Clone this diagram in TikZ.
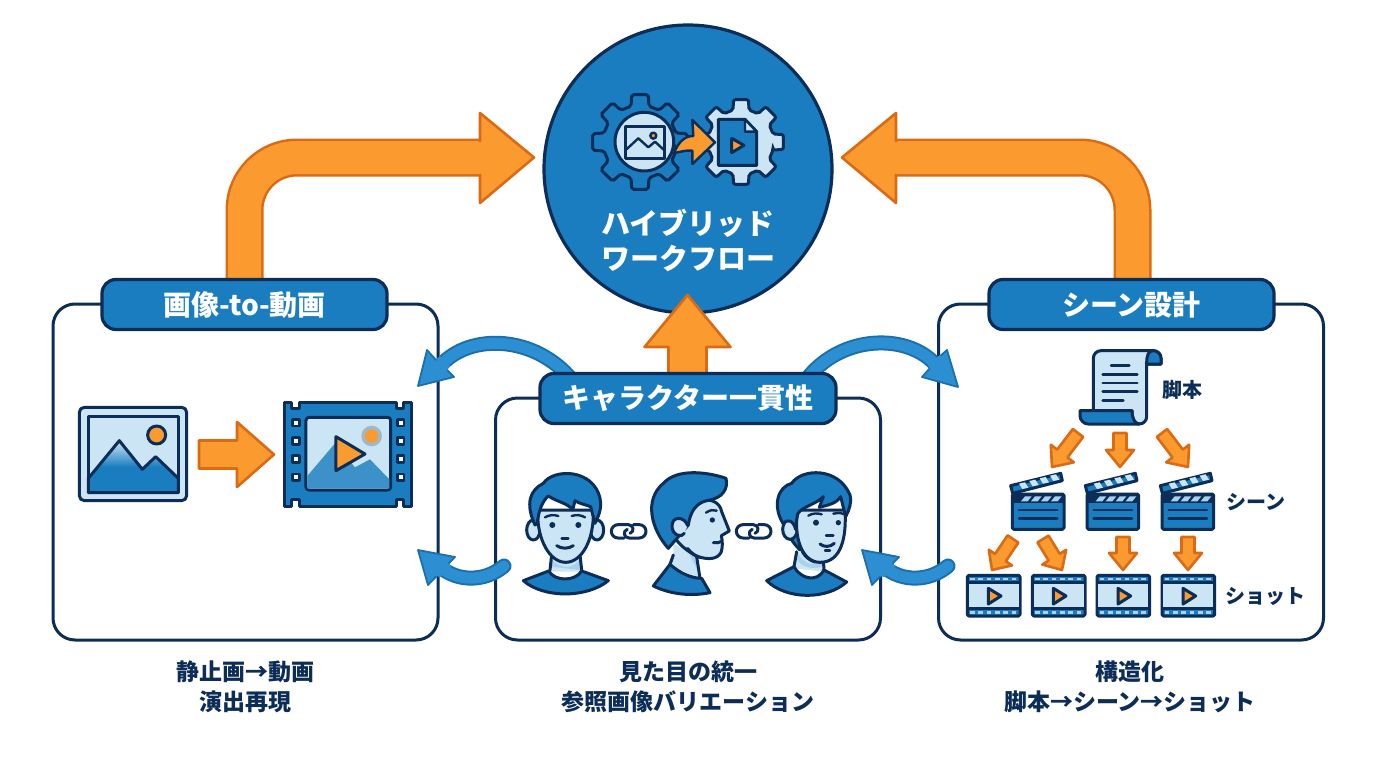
\documentclass[tikz,border=0pt]{standalone}
\usepackage{fontspec}
\setmainfont{Noto Sans CJK JP}
\usetikzlibrary{calc}
\definecolor{navy}{HTML}{0C2D57}
\definecolor{hubblue}{HTML}{1A7DC0}
\definecolor{bandblue}{HTML}{2C8FD1}
\definecolor{bandedge}{HTML}{1B6FB0}
\definecolor{pale}{HTML}{CBE5F4}
\definecolor{palemid}{HTML}{A6D2EC}
\definecolor{orangefill}{HTML}{FB9A2E}
\definecolor{orangeedge}{HTML}{DB6A14}
\tikzset{
  zoomframe/.style 2 args={x=0.33333pt,y=-0.33333pt,shift={(#1pt,-#2pt)}},
  panel/.style={draw=navy,line width=3pt,fill=white,rounded corners=22pt,minimum width=385pt,inner sep=0pt},
  tabhead/.style={draw=navy,line width=3.2pt,fill=hubblue,rounded corners=14pt,text=white,inner sep=0pt,
    minimum height=50pt,font=\fontsize{28}{34}\selectfont\bfseries},
  hubdisc/.style={circle,draw=navy,line width=3.2pt,fill=hubblue,minimum size=288pt,inner sep=0pt},
  hubtitle/.style={text=white,align=center,inner sep=0pt,font=\fontsize{29}{35}\selectfont\bfseries},
  caption/.style={text=navy,align=center,inner sep=0pt,font=\fontsize{23}{30}\selectfont\bfseries},
  sidenote/.style={text=navy,inner sep=0pt,font=\fontsize{20}{24}\selectfont\bfseries},
  orangeblock/.style={draw=orangeedge,fill=orangefill,line width=2.6pt,line join=round},
  icon/.style={draw=navy,line width=3pt,line join=round,line cap=round},
  thin icon/.style={draw=navy,line width=2.4pt,line join=round,line cap=round},
  chain/.style={draw=navy,line width=3pt,line join=round,line cap=round},
  bandhead/.style={draw=bandedge,fill=bandblue,line width=1.8pt,line join=round},
}
% straight block arrow between two named points
\newcommand\blockarrow[5]{%
  \pgfmathanglebetweenpoints{\pgfpointanchor{#1}{center}}{\pgfpointanchor{#2}{center}}%
  \let\baAng\pgfmathresult
  \pgfpointdiff{\pgfpointanchor{#1}{center}}{\pgfpointanchor{#2}{center}}%
  \pgfgetlastxy{\baDx}{\baDy}%
  \pgfmathsetmacro\baLen{veclen(\baDx,\baDy)}%
  \pgfmathsetmacro\baNeck{\baLen-#5}%
  \pgfmathsetmacro\baS{#3/2}%
  \pgfmathsetmacro\baH{#4/2}%
  \draw[orangeblock,shift={(#1)},rotate=\baAng]
    (0pt,-\baS pt) -- (\baNeck pt,-\baS pt) -- (\baNeck pt,-\baH pt) -- (\baLen pt,0pt)
    -- (\baNeck pt,\baH pt) -- (\baNeck pt,\baS pt) -- (0pt,\baS pt) -- cycle;
}
% eight-toothed gear outline around the current origin
\newcommand\gearoutline[3]{%
  \draw[#1,rounded corners=2pt] (-14:#3pt)
    \foreach \a in {0,45,...,315}{ -- (\a-14:#3pt) -- (\a-10:#2pt) -- (\a+10:#2pt) -- (\a+14:#3pt) } -- cycle;
}
% clapperboard, offset in the frame of the right-hand panel
\newcommand\clapper[1]{%
  \begin{scope}[zoomframe={950}{340},xshift=#1*0.33333pt]
    \draw[icon,fill=hubblue,rounded corners=1.5pt] (187,462) rectangle (342,568);
    \fill[navy] (189,464) rectangle (340,488);
    \foreach \s in {0,1,2,3}{
      \fill[palemid] (225+\s*30,469) -- (245+\s*30,469) -- (233+\s*30,484) -- (213+\s*30,484) -- cycle;
    }
    \draw[thin icon] (207,510) -- (322,510) (207,536) -- (322,536);
    \draw[icon,fill=hubblue] (182,437) -- (332,400) -- (337,422) -- (188,460) -- cycle;
    \foreach \s in {0,1,2,3}{
      \fill[pale] (207+\s*31,431-\s*8) -- (225+\s*31,427-\s*8) -- (235+\s*31,443-\s*8) -- (217+\s*31,447-\s*8) -- cycle;
    }
  \end{scope}
}
% film-strip shot icon, offset in the frame of the right-hand panel
\newcommand\shot[1]{%
  \begin{scope}[zoomframe={950}{340},xshift=#1*0.33333pt]
    \draw[icon,fill=hubblue,rounded corners=1.5pt] (52,706) rectangle (210,828);
    \draw[thin icon,fill=pale] (52,728) rectangle (210,805);
    \foreach \s in {0,...,5}{
      \fill[palemid] (60+\s*25,713) rectangle (74+\s*25,721);
      \fill[palemid] (60+\s*25,813) rectangle (74+\s*25,821);
    }
    \draw[icon,fill=orangefill] (115,745) -- (153,768) -- (115,792) -- cycle;
  \end{scope}
}
\begin{document}
\begin{tikzpicture}[x=1pt,y=-1pt]
\useasboundingbox (0,0) rectangle (1376,768);
\fill[white] (0,0) rectangle (1376,768);

% central hub
\node[hubdisc] (hub) at (688,169) {};

% the three panels
\node[panel,minimum height=336pt] (imagepanel) at (245.5,472) {};
\node[panel,minimum height=242pt] (charpanel) at (688,519) {};
\node[panel,minimum height=336pt] (scenepanel) at (1131,472) {};

% named ends of the connectors
\coordinate (lfoot) at (244.5,285);
\coordinate (lbend) at (244.5,157.5);
\coordinate (lneck) at (482,157.5);
\coordinate (lhead) at (480,157.5);
\coordinate (ltip) at (534,157.5);
\coordinate (rfoot) at (1132.5,285);
\coordinate (rbend) at (1132.5,157.5);
\coordinate (rneck) at (894,157.5);
\coordinate (rhead) at (896,157.5);
\coordinate (rtip) at (842,157.5);
\coordinate (upfoot) at (687.5,380);
\coordinate (uptip) at (687.5,295);

% large elbow connectors into the hub
\foreach \w/\c in {38/orangeedge,33/orangefill}{
  \draw[line width=\w pt,\c,rounded corners=52.5pt] (lfoot) -- (lbend) -- (lneck);
  \draw[line width=\w pt,\c,rounded corners=52.5pt] (rfoot) -- (rbend) -- (rneck);
}
\draw[orangeblock] (lhead) -- (480,175) -- (480,203) -- (ltip) -- (480,113) -- (480,140) -- cycle;
\draw[orangeblock] (rhead) -- (896,175) -- (896,203) -- (rtip) -- (896,113) -- (896,140) -- cycle;
\fill[orangefill] (476,141.5) rectangle (483,173.5);
\fill[orangefill] (893,141.5) rectangle (900,173.5);
\blockarrow{upfoot}{uptip}{38}{86}{52}

% curved links between the panels
\coordinate (tl0) at (572,380);
\coordinate (tl1) at (441,365);
\coordinate (tr0) at (806,380);
\coordinate (tr1) at (934,363);
\coordinate (bl0) at (504,566);
\coordinate (bl1) at (440,567);
\coordinate (br0) at (948,566);
\coordinate (br1) at (884,567);
\foreach \w/\c in {15/bandedge,11/bandblue}{
  \draw[line width=\w pt,\c] (tl0) .. controls (535,335) and (470,333) .. (tl1);
  \draw[line width=\w pt,\c] (tr0) .. controls (840,335) and (905,333) .. (tr1);
  \draw[line width=\w pt,\c,line cap=round] (bl0) .. controls (485,582) and (458,582) .. (bl1);
  \draw[line width=\w pt,\c,line cap=round] (br0) .. controls (929,582) and (902,582) .. (br1);
}
\draw[bandhead] (427,350) -- (436,360) -- (447,370) -- (454,377) -- (418,386) -- cycle;
\draw[bandhead] (947,350) -- (938,358) -- (930,368) -- (922,377) -- (958,387) -- cycle;
\draw[bandhead] (418,550) -- (455,557) -- (428,585) -- cycle;
\draw[bandhead] (862,550) -- (899,557) -- (872,585) -- cycle;
\fill[bandblue] (433,363.5) -- (445,373) -- (450,366) -- (440,356) -- cycle;
\fill[bandblue] (940,355) -- (928,365) -- (933,372) -- (943,362) -- cycle;
\fill[bandblue] (446,562) -- (433,575) -- (440,577) -- (452,566) -- cycle;
\fill[bandblue] (890,562) -- (877,575) -- (884,577) -- (896,566) -- cycle;

% panel title tabs
\node[tabhead,minimum width=285pt] (imagetab) at (244.5,304.5) {画像-to-動画};
\node[tabhead,minimum width=296pt] (chartab) at (688,398.5) {キャラクター一貫性};
\node[tabhead,minimum width=285pt] (scenetab) at (1131.5,304.5) {シーン設計};

% hub title
\node[hubtitle] (hubtext) at (688,240) {ハイブリッド\\ワークフロー};

% hub gears with the image and the video file
\begin{scope}[shift={(640pt,-142pt)}]
  \gearoutline{draw=navy,line width=3pt,fill=hubblue}{48}{37}
\end{scope}
\begin{scope}[shift={(741pt,-142pt)}]
  \gearoutline{draw=navy,line width=3pt,fill=pale}{43}{33}
\end{scope}
\begin{scope}[zoomframe={530}{10}]
  \draw[icon,fill=pale] (343,395) circle [radius=88];
  \draw[icon,fill=pale] (285,350) rectangle (402,445);
  \draw[thin icon] (285,422) -- (325,385) -- (355,412) -- (375,395) -- (402,420);
  \draw[thin icon,fill=orangefill] (370,377) circle [radius=9];
  \draw[thin icon,fill=orangefill] (432,430) .. controls (445,395) and (465,378) .. (490,378)
    -- (487,330) -- (555,397) -- (487,462) -- (487,422) .. controls (470,420) and (450,425) .. (432,430) -- cycle;
  \draw[icon,fill=hubblue] (565,328) -- (645,328) -- (680,365) -- (680,466) -- (565,466) -- cycle;
  \draw[thin icon,fill=pale] (645,328) -- (645,365) -- (680,365) -- cycle;
  \draw[icon,fill=orangefill] (605,385) -- (642,406) -- (605,428) -- cycle;
\end{scope}

% still image turned into a video
\begin{scope}[zoomframe={50}{380}]
  \draw[icon,fill=pale,rounded corners=5pt] (88,82) rectangle (410,362);
  \draw[icon,fill=pale] (115,108) rectangle (385,338);
  \draw[icon,top color=pale,bottom color=hubblue,middle color=hubblue] (115,295) -- (208,182) -- (277,268) -- (317,230) -- (385,295) -- (385,338) -- (115,338) -- cycle;
  \draw[icon,fill=orangefill] (320,165) circle [radius=27];
  \draw[icon,fill=hubblue] (705,68) -- (725,68) -- (725,85) -- (750,85) -- (750,68) -- (1040,68) -- (1040,85)
    -- (1062,85) -- (1062,68) -- (1085,68) -- (1085,378) -- (1062,378) -- (1062,358) -- (1040,358)
    -- (1040,378) -- (750,378) -- (750,358) -- (725,358) -- (725,378) -- (705,378) -- cycle;
  \foreach \yy in {128,183,237,292}{
    \draw[thin icon,fill=white] (728,\yy-10) rectangle (748,\yy+10);
    \draw[thin icon,fill=white] (1042,\yy-10) rectangle (1062,\yy+10);
  }
  \draw[icon,fill=pale,rounded corners=3pt] (768,112) rectangle (1022,330);
  \fill[hubblue!85!white] (772,288) -- (855,190) -- (915,262) -- (960,238) -- (1018,298) -- (1018,326) -- (772,326) -- cycle;
  \fill[gray!45!palemid,opacity=.8] (965,168) circle [radius=31];
  \fill[orangefill] (965,168) circle [radius=20];
  \draw[icon,fill=orangefill] (858,170) -- (945,222) -- (858,272) -- cycle;
\end{scope}
\coordinate (imgarrow0) at (199,454.5);
\coordinate (imgarrow1) at (274,454.5);
\blockarrow{imgarrow0}{imgarrow1}{28}{65}{37}

% the same character seen from three sides
\begin{scope}[zoomframe={500}{370}]
  % front view
  \fill[pale] (155,555) -- (150,605) -- (245,605) -- (240,555) -- cycle;
  \fill[palemid] (156,570) .. controls (190,600) and (215,595) .. (240,570) -- (240,600) -- (156,590) -- cycle;
  \draw[icon] (155,555) -- (150,600) (240,555) -- (245,600);
  \draw[icon,fill=hubblue] (70,632) -- (146,603) .. controls (165,635) and (225,635) .. (245,603) -- (325,632)
    .. controls (260,685) and (130,685) .. (70,632) -- cycle;
  \draw[icon,fill=pale] (100,480) ellipse [x radius=20,y radius=30];
  \draw[icon,fill=pale] (291,480) ellipse [x radius=20,y radius=30];
  \draw[icon,fill=pale] (113,420) .. controls (110,510) and (150,577) .. (197,577) .. controls (245,577) and (283,510) .. (280,420) -- cycle;
  \draw[icon,fill=hubblue] (105,465) .. controls (75,400) and (90,360) .. (130,340)
    .. controls (160,295) and (280,295) .. (300,385) .. controls (305,410) and (300,430) .. (285,460)
    -- (272,410) .. controls (260,405) and (235,400) .. (225,392) -- (218,420)
    .. controls (205,400) and (170,395) .. (145,378) .. controls (130,390) and (115,420) .. (112,460) -- cycle;
  \fill[navy] (157,465) circle [radius=9] (235,465) circle [radius=9];
  \draw[thin icon] (135,442) .. controls (148,434) and (162,434) .. (175,438) (215,438) .. controls (228,434) and (242,434) .. (255,442);
  \draw[thin icon] (185,505) -- (205,505);
  \draw[icon] (170,527) .. controls (185,537) and (205,537) .. (220,527);
  % chain link
  \draw[chain] (372,504) -- (354,504) arc [start angle=90,end angle=270,radius=20] -- (385,464) .. controls (400,464) and (405,485) .. (390,490);
  \draw[chain] (400,464) -- (418,464) arc [start angle=270,end angle=450,radius=20] -- (387,504) .. controls (372,504) and (367,483) .. (382,478);
  % profile view
  \fill[pale] (520,520) -- (520,555) -- (510,585) -- (600,628) -- (590,560) -- cycle;
  \fill[palemid] (560,535) .. controls (575,560) and (590,565) .. (592,565) -- (597,605) .. controls (585,590) and (575,565) .. (560,535) -- cycle;
  \draw[icon] (520,555) -- (510,583) (590,560) -- (600,625);
  \draw[icon,fill=hubblue] (460,648) -- (510,583) .. controls (540,610) and (575,625) .. (605,625) -- (630,668)
    .. controls (570,680) and (510,672) .. (460,648) -- cycle;
  \draw[icon,fill=pale] (560,420) -- (600,392) .. controls (630,385) and (660,395) .. (665,425) -- (688,483) -- (664,497)
    .. controls (668,515) and (668,530) .. (664,545) .. controls (655,568) and (625,570) .. (595,560)
    .. controls (570,550) and (530,520) .. (525,500) -- cycle;
  \draw[icon,fill=hubblue] (505,535) .. controls (455,480) and (430,390) .. (490,340)
    .. controls (530,295) and (620,305) .. (678,325) .. controls (685,355) and (670,385) .. (620,392)
    .. controls (585,400) and (570,430) .. (565,465) -- (535,500) -- cycle;
  \draw[icon,fill=pale] (563,467) .. controls (555,440) and (515,435) .. (516,470) .. controls (517,495) and (545,505) .. (553,490);
  \fill[navy] (637,450) circle [radius=8];
  \draw[thin icon] (618,428) .. controls (630,420) and (640,418) .. (650,422);
  \draw[icon] (640,518) .. controls (650,520) and (658,518) .. (665,514);
  \draw[icon] (562,535) .. controls (575,550) and (590,562) .. (600,562);
  % chain link
  \draw[chain] (747,504) -- (729,504) arc [start angle=90,end angle=270,radius=20] -- (760,464) .. controls (775,464) and (780,485) .. (765,490);
  \draw[chain] (775,464) -- (793,464) arc [start angle=270,end angle=450,radius=20] -- (762,504) .. controls (747,504) and (742,483) .. (757,478);
  % three-quarter view
  \fill[pale] (890,545) -- (885,595) -- (975,605) -- (970,565) -- cycle;
  \fill[palemid] (892,550) .. controls (915,580) and (930,590) .. (968,575) -- (968,590) .. controls (935,600) and (905,590) .. (892,570) -- cycle;
  \draw[icon] (890,545) -- (882,590) (970,565) -- (972,600);
  \draw[icon,fill=hubblue] (800,632) -- (882,590) .. controls (900,625) and (950,640) .. (972,600) -- (1040,636)
    .. controls (980,690) and (860,690) .. (800,632) -- cycle;
  \draw[icon,fill=hubblue] (850,440) -- (895,430) -- (900,540) .. controls (870,510) and (855,480) .. (850,440) -- cycle;
  \draw[icon,fill=pale] (870,478) ellipse [x radius=22,y radius=30];
  \draw[icon,fill=pale] (893,420) .. controls (880,500) and (905,577) .. (960,577) .. controls (1025,577) and (1040,500) .. (1035,420) -- cycle;
  \draw[icon,fill=hubblue] (850,462) .. controls (815,405) and (835,350) .. (875,340)
    .. controls (905,295) and (1015,290) .. (1050,375) .. controls (1056,400) and (1047,420) .. (1037,440)
    -- (1022,380) .. controls (1010,400) and (985,405) .. (958,412) -- (970,380)
    .. controls (945,405) and (905,410) .. (893,432) .. controls (890,445) and (888,465) .. (887,478)
    .. controls (880,450) and (860,445) .. (850,462) -- cycle;
  \fill[navy] (948,458) circle [radius=9] (1015,458) circle [radius=8];
  \draw[thin icon] (925,437) .. controls (938,429) and (952,429) .. (965,433) (1000,431) .. controls (1010,428) and (1022,428) .. (1030,432);
  \draw[thin icon] (978,497) -- (1000,497);
  \draw[icon] (960,522) .. controls (972,532) and (990,532) .. (1003,520);
  \draw[thin icon] (975,542) -- (990,542);
  \draw[icon] (907,545) .. controls (915,560) and (930,572) .. (945,576);
\end{scope}

% script, scenes and shots
\begin{scope}[zoomframe={950}{340}]
  \draw[icon,fill=pale] (430,212) -- (430,55) arc [start angle=180,end angle=270,radius=23] -- (610,32)
    arc [start angle=270,end angle=360,radius=23] -- (633,72) -- (590,72) -- (590,230)
    arc [start angle=0,end angle=180,radius=22] -- (546,212) -- cycle;
  \draw[icon,fill=hubblue] (590,72) .. controls (590,45) and (595,32) .. (610,32) arc [start angle=270,end angle=360,radius=23] -- (633,72) -- cycle;
  \draw[icon,fill=hubblue] (390,212) -- (546,212) .. controls (546,235) and (555,252) .. (568,252) -- (415,252)
    arc [start angle=90,end angle=180,radius=25] -- cycle;
  \draw[thin icon] (483,76) -- (538,76) (458,103) -- (562,103) (458,129) -- (562,129) (458,155) -- (562,155) (458,182) -- (520,182);
\end{scope}
\clapper{0}\clapper{224}\clapper{449}
\shot{0}\shot{195}\shot{389}\shot{584}

\coordinate (scriptA) at (1078,433);
\coordinate (sceneA) at (1052,467);
\coordinate (scriptB) at (1120,433);
\coordinate (sceneB) at (1120,467);
\coordinate (scriptC) at (1162,433);
\coordinate (sceneC) at (1188,467);
\coordinate (sceneA1) at (1013,539);
\coordinate (shotA) at (992,570);
\coordinate (sceneA2) at (1043,539);
\coordinate (shotB) at (1062,570);
\coordinate (sceneB1) at (1123,537);
\coordinate (shotC) at (1123,570);
\coordinate (sceneC1) at (1188,537);
\coordinate (shotD) at (1188,570);
\blockarrow{scriptA}{sceneA}{13}{29}{17}
\blockarrow{scriptB}{sceneB}{13}{28}{17}
\blockarrow{scriptC}{sceneC}{13}{29}{17}
\blockarrow{sceneA1}{shotA}{13}{28}{15}
\blockarrow{sceneA2}{shotB}{13}{28}{15}
\blockarrow{sceneB1}{shotC}{13}{28}{17}
\blockarrow{sceneC1}{shotD}{13}{28}{17}

% level labels
\node[sidenote] (lblscript) at (1182,390) {脚本};
\node[sidenote] (lblscene) at (1256,502) {シーン};
\node[sidenote] (lblshot) at (1265,596) {ショット};

% captions under the panels
\node[caption] (capimage) at (245,687) {静止画→動画\\演出再現};
\node[caption] (capchar) at (688,687) {見た目の統一\\参照画像バリエーション};
\node[caption] (capscene) at (1130,687) {構造化\\脚本→シーン→ショット};
\end{tikzpicture}
\end{document}
